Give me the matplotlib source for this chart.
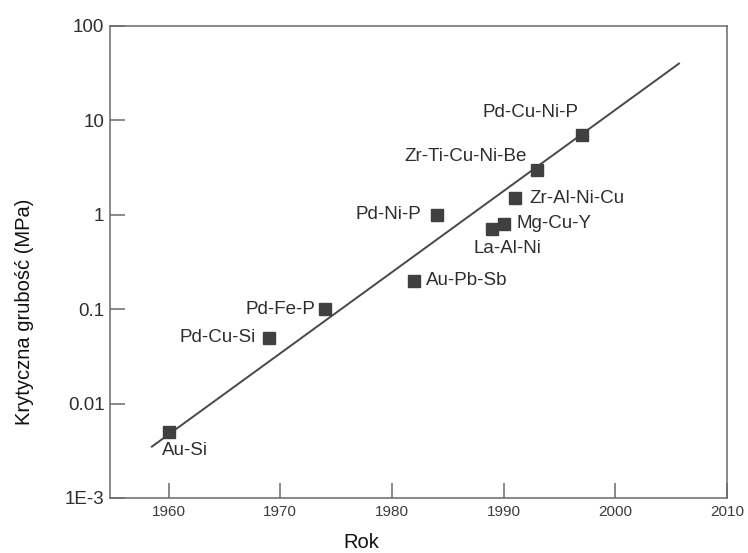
import matplotlib
matplotlib.use("Agg")
import matplotlib.pyplot as plt
from matplotlib.ticker import FixedLocator, NullLocator

plt.rcParams['font.family'] = ['Liberation Sans', 'DejaVu Sans']

# --- data ---
alloys = ['Au-Si', 'Pd-Cu-Si', 'Pd-Fe-P', 'Au-Pb-Sb', 'Pd-Ni-P',
          'La-Al-Ni', 'Mg-Cu-Y', 'Zr-Al-Ni-Cu', 'Zr-Ti-Cu-Ni-Be', 'Pd-Cu-Ni-P']
years = [1960, 1969, 1974, 1982, 1984, 1989, 1990, 1991, 1993, 1997]
values = [0.005, 0.05, 0.1, 0.2, 1.0, 0.7, 0.8, 1.5, 3.0, 7.0]

# trend line end points
trend_years = [1958.5, 2005.7]
trend_values = [0.0035, 40.0]

x_ticks = [1960, 1970, 1980, 1990, 2000, 2010]
y_ticks = [0.001, 0.01, 0.1, 1, 10, 100]
y_tick_labels = ['1E-3', '0.01', '0.1', '1', '10', '100']

# label placement: (dx px, dy px, ha)
label_pos = {
    'Au-Si': (-7, -18, 'left'),
    'Pd-Cu-Si': (-13, 0, 'right'),
    'Pd-Fe-P': (-10, 0, 'right'),
    'Au-Pb-Sb': (12, 0, 'left'),
    'Pd-Ni-P': (-15, 0, 'right'),
    'La-Al-Ni': (15, -19, 'center'),
    'Mg-Cu-Y': (13, 0, 'left'),
    'Zr-Al-Ni-Cu': (15, 0, 'left'),
    'Zr-Ti-Cu-Ni-Be': (-10, 13, 'right'),
    'Pd-Cu-Ni-P': (-3, 23, 'right'),
}

DARK = '#404040'
AXC = '#6a6a6a'

fig = plt.figure(figsize=(7.48, 5.53), dpi=100)
ax = fig.add_axes([110 / 748, 1 - 498 / 553, 617 / 748, 472 / 553])

ax.plot(trend_years, trend_values, color='#484848', linewidth=1.4, zorder=2)
ax.plot(years, values, linestyle='none', marker='s', markersize=8.3,
        color=DARK, markeredgecolor=DARK, zorder=3)

for name, x, y in zip(alloys, years, values):
    dx, dy, ha = label_pos[name]
    ax.annotate(name, xy=(x, y), xytext=(dx, dy), textcoords='offset pixels',
                ha=ha, va='center', fontsize=13.5, color='#2e2e2e')

ax.set_yscale('log')
ax.set_xlim(1954.75, 2010)
ax.set_ylim(0.001, 100)

ax.xaxis.set_major_locator(FixedLocator(x_ticks))
ax.set_xticklabels([str(t) for t in x_ticks])
ax.yaxis.set_major_locator(FixedLocator(y_ticks))
ax.yaxis.set_minor_locator(NullLocator())
ax.set_yticklabels(y_tick_labels)

ax.tick_params(axis='both', direction='in', length=11, width=1.1, color=AXC)
ax.tick_params(axis='x', labelsize=11, pad=5, labelcolor='#3c3c3c')
ax.tick_params(axis='y', labelsize=13.5, pad=4, labelcolor='#2e2e2e')
for s in ax.spines.values():
    s.set_color(AXC)
    s.set_linewidth(1.1)

fig.text(24 / 748, 1 - 312 / 553, 'Krytyczna grubość (MPa)', rotation=90,
         ha='center', va='center', fontsize=14.5, color='#111111')
fig.text(361 / 748, 5 / 553, 'Rok', ha='center', va='baseline',
         fontsize=14.5, color='#111111')

fig.savefig('out.png', dpi=100)
